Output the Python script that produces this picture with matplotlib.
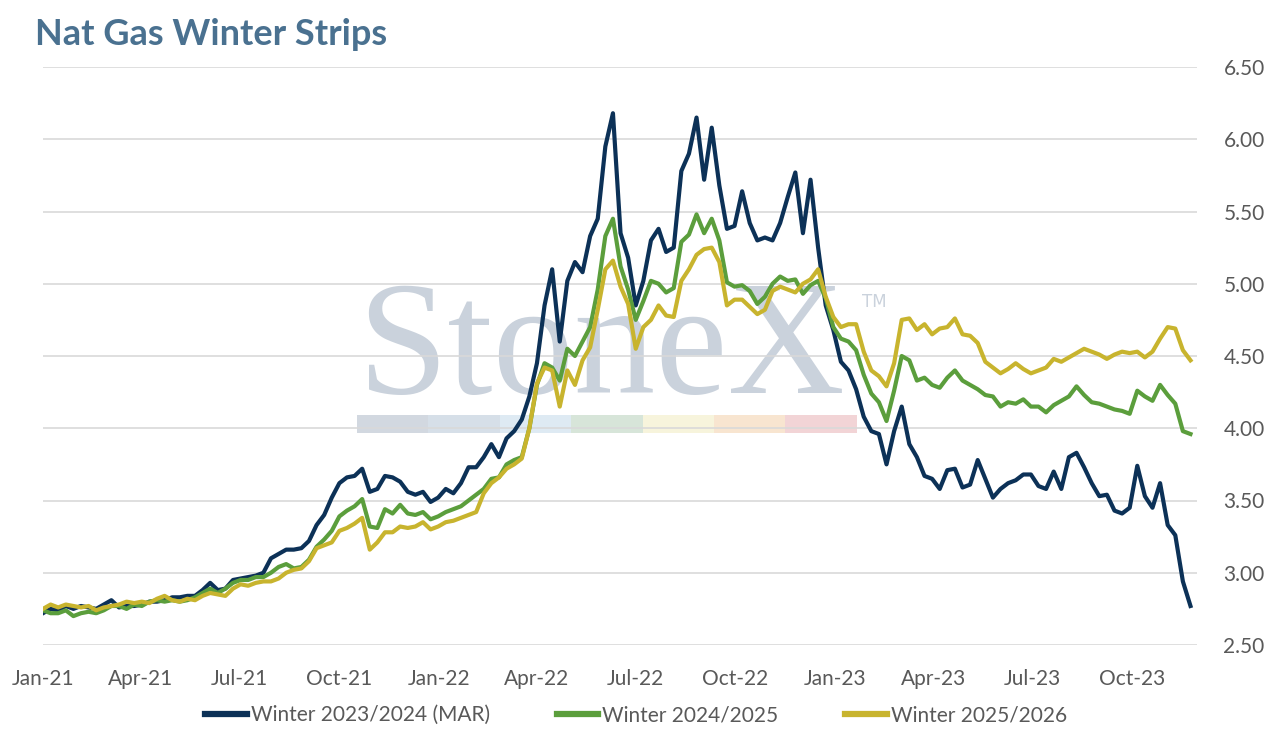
import matplotlib
matplotlib.use("Agg")
import matplotlib.pyplot as plt
import matplotlib.dates as mdates
from matplotlib.patches import Rectangle
import pandas as pd

# ---------------- data (weekly) ----------------
start_date = "2021-01-01"
end_date = "2023-11-30"

winter_2324 = [
    2.72, 2.75, 2.74, 2.77, 2.75, 2.77, 2.76, 2.75, 2.78, 2.81,
    2.76, 2.77, 2.77, 2.78, 2.80, 2.80, 2.81, 2.83, 2.83, 2.84,
    2.84, 2.88, 2.93, 2.88, 2.89, 2.95, 2.96, 2.97, 2.98, 3.00,
    3.10, 3.13, 3.16, 3.16, 3.17, 3.22, 3.33, 3.40, 3.52, 3.62,
    3.66, 3.67, 3.72, 3.56, 3.58, 3.67, 3.66, 3.63, 3.56, 3.54,
    3.56, 3.49, 3.52, 3.58, 3.55, 3.62, 3.73, 3.73, 3.80, 3.89,
    3.80, 3.93, 3.98, 4.06, 4.22, 4.45, 4.85, 5.10, 4.60, 5.02,
    5.15, 5.08, 5.33, 5.45, 5.95, 6.18, 5.35, 5.18, 4.85, 5.02,
    5.30, 5.38, 5.22, 5.25, 5.78, 5.90, 6.15, 5.72, 6.08, 5.68,
    5.38, 5.40, 5.64, 5.42, 5.30, 5.32, 5.30, 5.42, 5.60, 5.77,
    5.35, 5.72, 5.25, 4.85, 4.68, 4.46, 4.40, 4.27, 4.08, 3.98,
    3.96, 3.75, 3.98, 4.15, 3.89, 3.80, 3.67, 3.65, 3.58, 3.71,
    3.72, 3.59, 3.61, 3.78, 3.65, 3.52, 3.58, 3.62, 3.64, 3.68,
    3.68, 3.60, 3.58, 3.70, 3.58, 3.80, 3.83, 3.73, 3.62, 3.53,
    3.54, 3.43, 3.41, 3.45, 3.74, 3.53, 3.45, 3.62, 3.33, 3.26,
    2.94, 2.77,
]

winter_2425 = [
    2.74, 2.72, 2.72, 2.74, 2.70, 2.72, 2.73, 2.72, 2.74, 2.77,
    2.77, 2.75, 2.78, 2.77, 2.80, 2.81, 2.80, 2.81, 2.80, 2.81,
    2.83, 2.86, 2.89, 2.86, 2.89, 2.93, 2.95, 2.95, 2.97, 2.97,
    3.00, 3.04, 3.06, 3.03, 3.04, 3.09, 3.18, 3.23, 3.29, 3.39,
    3.43, 3.46, 3.51, 3.32, 3.31, 3.44, 3.41, 3.47, 3.41, 3.40,
    3.42, 3.37, 3.39, 3.42, 3.44, 3.46, 3.50, 3.54, 3.58, 3.65,
    3.66, 3.75, 3.78, 3.80, 4.00, 4.30, 4.45, 4.42, 4.33, 4.55,
    4.50, 4.60, 4.70, 4.96, 5.33, 5.45, 5.12, 4.96, 4.75, 4.88,
    5.02, 5.00, 4.94, 4.97, 5.29, 5.34, 5.48, 5.35, 5.45, 5.30,
    5.01, 4.98, 4.99, 4.95, 4.86, 4.91, 5.00, 5.05, 5.02, 5.03,
    4.93, 4.99, 5.02, 4.90, 4.70, 4.62, 4.60, 4.54, 4.37, 4.24,
    4.18, 4.05, 4.26, 4.50, 4.47, 4.33, 4.35, 4.30, 4.28, 4.35,
    4.40, 4.33, 4.30, 4.27, 4.23, 4.22, 4.15, 4.18, 4.17, 4.20,
    4.15, 4.15, 4.11, 4.16, 4.19, 4.22, 4.29, 4.23, 4.18, 4.17,
    4.15, 4.13, 4.12, 4.10, 4.26, 4.22, 4.19, 4.30, 4.23, 4.17,
    3.98, 3.96,
]

winter_2526 = [
    2.75, 2.78, 2.76, 2.78, 2.77, 2.76, 2.77, 2.74, 2.76, 2.77,
    2.78, 2.80, 2.79, 2.80, 2.79, 2.82, 2.84, 2.81, 2.80, 2.82,
    2.81, 2.84, 2.86, 2.85, 2.84, 2.89, 2.92, 2.91, 2.93, 2.94,
    2.94, 2.96, 3.00, 3.02, 3.03, 3.08, 3.17, 3.19, 3.21, 3.29,
    3.31, 3.34, 3.38, 3.16, 3.21, 3.28, 3.28, 3.32, 3.31, 3.32,
    3.35, 3.30, 3.32, 3.35, 3.36, 3.38, 3.40, 3.42, 3.55, 3.62,
    3.66, 3.72, 3.75, 3.79, 4.00, 4.31, 4.42, 4.40, 4.15, 4.40,
    4.30, 4.47, 4.56, 4.82, 5.10, 5.16, 4.98, 4.86, 4.55, 4.70,
    4.75, 4.85, 4.78, 4.77, 5.02, 5.10, 5.20, 5.24, 5.25, 5.15,
    4.85, 4.89, 4.89, 4.84, 4.79, 4.82, 4.95, 4.98, 4.96, 4.94,
    5.00, 5.03, 5.10, 4.91, 4.77, 4.70, 4.72, 4.72, 4.53, 4.40,
    4.36, 4.29, 4.45, 4.75, 4.76, 4.68, 4.72, 4.65, 4.69, 4.70,
    4.76, 4.65, 4.64, 4.59, 4.46, 4.42, 4.38, 4.41, 4.45, 4.41,
    4.38, 4.40, 4.42, 4.48, 4.46, 4.49, 4.52, 4.55, 4.53, 4.51,
    4.48, 4.51, 4.53, 4.52, 4.53, 4.49, 4.53, 4.62, 4.70, 4.69,
    4.54, 4.47,
]

series_labels = ["Winter 2023/2024 (MAR)", "Winter 2024/2025", "Winter 2025/2026"]
series_colors = ["#0c3157", "#5b9e3c", "#c8b42e"]
y_ticks = [2.5, 3.0, 3.5, 4.0, 4.5, 5.0, 5.5, 6.0, 6.5]
title = "Nat Gas Winter Strips"

dates = pd.date_range(start_date, periods=len(winter_2324), freq="7D")

# ---------------- figure ----------------
W, H = 1271, 734
fig = plt.figure(figsize=(W / 100, H / 100), dpi=100)
ax = fig.add_axes([43 / W, 1 - 645 / H, (1197 - 43) / W, (645 - 67) / H])

font = "Lato"
tick_color = "#595959"

# watermark (StoneX)
wm_color = "#cad2dc"
ax.text(357 / W, 1 - 393 / H, "StoneX", transform=fig.transFigure,
        fontsize=117, family="Liberation Serif", color=wm_color,
        ha="left", va="baseline", zorder=0.1)
ax.text(862 / W, 1 - 307 / H, "TM", transform=fig.transFigure,
        fontsize=12, family="DejaVu Sans", color=wm_color,
        ha="left", va="baseline", zorder=0.1)
bar_colors = ["#d2d8e0", "#d6dfe8", "#deeaf3", "#d7e5d9", "#f7f4dc", "#f8e5d0", "#f2d4d6"]
seg_w = 71.4
for i, c in enumerate(bar_colors):
    ax.add_patch(Rectangle(((357 + i * seg_w) / W, 1 - 433 / H), seg_w / W, 18 / H,
                           transform=fig.transFigure, facecolor=c, edgecolor="none",
                           zorder=0.1, clip_on=False))

for vals, lab, col in zip([winter_2324, winter_2425, winter_2526], series_labels, series_colors):
    ax.plot(dates, vals, color=col, lw=3.0, label=lab, solid_joinstyle="round", zorder=2)

ax.set_xlim(pd.Timestamp(start_date), pd.Timestamp(end_date))
ax.set_ylim(2.5, 6.5)
ax.set_yticks(y_ticks)
ax.yaxis.set_major_formatter(matplotlib.ticker.FormatStrFormatter("%.2f"))
ax.yaxis.tick_right()
ax.grid(axis="y", color="#d9d9d9", lw=1.2, zorder=0.5)
ax.set_axisbelow(True)
for s in ax.spines.values():
    s.set_visible(False)

ax.xaxis.set_major_locator(mdates.MonthLocator(bymonth=[1, 4, 7, 10]))
ax.xaxis.set_major_formatter(mdates.DateFormatter("%b-%y"))
ax.tick_params(axis="both", length=0, labelsize=15, labelcolor=tick_color)
ax.tick_params(axis="x", pad=17)
ax.tick_params(axis="y", pad=19)
for lbl in ax.get_xticklabels() + ax.get_yticklabels():
    lbl.set_family(font)

fig.text(35 / W, 1 - 45 / H, title, fontsize=26, fontweight="bold", family=font,
         color="#4a7190", ha="left", va="baseline")

leg = fig.legend(loc="center", bbox_to_anchor=(636 / W, 1 - 715 / H), ncol=3,
                 frameon=False, prop={"family": font, "size": 15},
                 handlelength=2.0, handletextpad=0.2, columnspacing=3.2)
for t in leg.get_texts():
    t.set_color(tick_color)
for h in leg.get_lines():
    h.set_linewidth(4.5)

fig.savefig("out.png", dpi=100)
